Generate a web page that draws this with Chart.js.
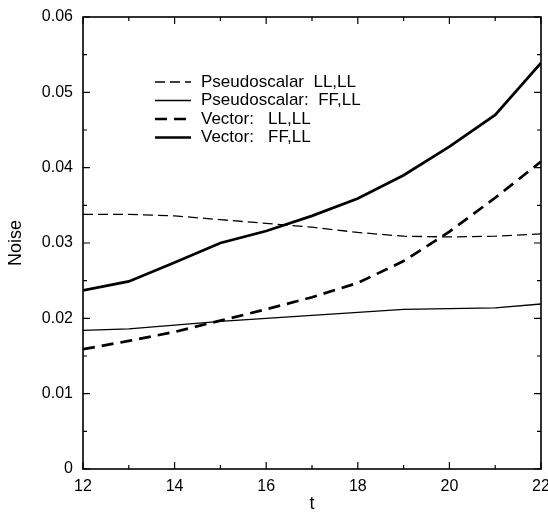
<!DOCTYPE html>
<html>
<head>
<meta charset="utf-8">
<script src="https://cdn.jsdelivr.net/npm/chart.js@4.4.0/dist/chart.umd.min.js"></script>
<style>
  html, body { margin: 0; padding: 0; background: #fff; }
  #wrap { width: 548px; height: 517px; }
</style>
</head>
<body>
<div id="wrap"><canvas id="myChart"></canvas></div>
<script>
// values
const tValues = [12, 13, 14, 15, 16, 17, 18, 19, 20, 21, 22];
const pseudoLL = [0.0338, 0.0338, 0.0336, 0.0331, 0.0326, 0.0321, 0.0314, 0.0309, 0.0308, 0.0309, 0.0312];
const pseudoFF = [0.0184, 0.0186, 0.0191, 0.0196, 0.0200, 0.0204, 0.0208, 0.0212, 0.0213, 0.0214, 0.0219];
const vectorLL = [0.0159, 0.0170, 0.0182, 0.0197, 0.0212, 0.0228, 0.0247, 0.0276, 0.0315, 0.0360, 0.0408];
const vectorFF = [0.0237, 0.0249, 0.0274, 0.0300, 0.0316, 0.0336, 0.0359, 0.0390, 0.0428, 0.0470, 0.0539];
const seriesLabels = ['Pseudoscalar  LL,LL', 'Pseudoscalar:  FF,LL', 'Vector:   LL,LL', 'Vector:   FF,LL'];
const yTicksMajor = [0, 0.01, 0.02, 0.03, 0.04, 0.05, 0.06];
const yTicksMinor = [0.005, 0.015, 0.025, 0.035, 0.045, 0.055];
const xTicksMajor = [12, 14, 16, 18, 20, 22];
const xTicksMinor = [13, 15, 17, 19, 21];

const FONT = '"Liberation Sans", Arial, Helvetica, sans-serif';

function pts(vals){
    return tValues.map((t, i) => ({x: t, y: vals[i]}));
}

// box round the plot with inward ticks on all four sides
const frameTicks = {
    id: 'frameTicks',
    afterDatasetsDraw(chart){
        const ctx = chart.ctx;
        const a = chart.chartArea;
        const xs = chart.scales.x, ys = chart.scales.y;
        ctx.save();
        ctx.strokeStyle = '#000';
        ctx.lineWidth = 1.6;
        ctx.strokeRect(a.left, a.top, a.right - a.left, a.bottom - a.top);
        ctx.lineWidth = 1.2;
        ctx.beginPath();
        const tick = (list, len) => {
            list.forEach(v => {
                const px = xs.getPixelForValue(v);
                ctx.moveTo(px, a.bottom); ctx.lineTo(px, a.bottom - len);
                ctx.moveTo(px, a.top); ctx.lineTo(px, a.top + len);
            });
        };
        const tickY = (list, len) => {
            list.forEach(v => {
                const py = ys.getPixelForValue(v);
                ctx.moveTo(a.left, py); ctx.lineTo(a.left + len, py);
                ctx.moveTo(a.right, py); ctx.lineTo(a.right - len, py);
            });
        };
        tick(xTicksMajor, 7); tick(xTicksMinor, 4);
        tickY(yTicksMajor, 7); tickY(yTicksMinor, 4);
        ctx.stroke();
        ctx.restore();
    }
};

// legend inside the plot, top left
const innerLegend = {
    id: 'innerLegend',
    afterDatasetsDraw(chart){
        const ctx = chart.ctx;
        const x0 = 155, x1 = 191, xt = 201;
        let y = 82;
        ctx.save();
        ctx.font = '17px ' + FONT;
        ctx.textBaseline = 'middle';
        ctx.fillStyle = '#000';
        chart.data.datasets.forEach(ds => {
            ctx.beginPath();
            ctx.strokeStyle = '#000';
            ctx.lineWidth = ds.borderWidth;
            ctx.setLineDash(ds.borderDash || []);
            ctx.moveTo(x0, y); ctx.lineTo(x1, y);
            ctx.stroke();
            ctx.setLineDash([]);
            ctx.fillText(ds.label, xt, y);
            y += 18.5;
        });
        ctx.restore();
    }
};

function loadChart(){
    const ctx = document.getElementById('myChart');
    new Chart(ctx, {
        type: 'line',
        data: {
            datasets: [
                { label: seriesLabels[0], data: pts(pseudoLL), borderColor: '#000', borderWidth: 1.3, borderDash: [10, 5] },
                { label: seriesLabels[1], data: pts(pseudoFF), borderColor: '#000', borderWidth: 1.3 },
                { label: seriesLabels[2], data: pts(vectorLL), borderColor: '#000', borderWidth: 2.7, borderDash: [12, 7] },
                { label: seriesLabels[3], data: pts(vectorFF), borderColor: '#000', borderWidth: 2.7 }
            ]
        },
        options: {
            responsive: true,
            maintainAspectRatio: false,
            animation: false,
            elements: { point: { radius: 0 }, line: { tension: 0 } },
            layout: { padding: { top: 17, right: 7, left: 0, bottom: 0 } },
            scales: {
                x: {
                    type: 'linear',
                    min: 12, max: 22,
                    afterBuildTicks(scale){ scale.ticks = xTicksMajor.map(v => ({value: v})); },
                    afterFit(scale){ scale.height = 48; scale.paddingLeft = 0; scale.paddingRight = 0; },
                    grid: { display: false, drawTicks: false },
                    border: { display: false },
                    ticks: { color: '#000', font: { family: FONT, size: 16 }, padding: 8, maxRotation: 0 },
                    title: { display: true, text: 't', color: '#000', font: { family: FONT, size: 18 }, padding: { top: 0, bottom: 2 } }
                },
                y: {
                    type: 'linear',
                    min: 0, max: 0.06,
                    afterBuildTicks(scale){ scale.ticks = yTicksMajor.map(v => ({value: v})); },
                    afterFit(scale){ scale.width = 83; scale.paddingTop = 0; scale.paddingBottom = 0; },
                    grid: { display: false, drawTicks: false },
                    border: { display: false },
                    ticks: {
                        color: '#000', font: { family: FONT, size: 16 }, padding: 10,
                        callback: v => v === 0 ? '0' : v.toFixed(2)
                    },
                    title: { display: true, text: 'Noise', color: '#000', font: { family: FONT, size: 18 }, padding: { top: 5, bottom: 0 } }
                }
            },
            plugins: {
                legend: { display: false },
                tooltip: { enabled: false }
            }
        },
        plugins: [frameTicks, innerLegend]
    });
}

loadChart();
</script>
</body>
</html>
